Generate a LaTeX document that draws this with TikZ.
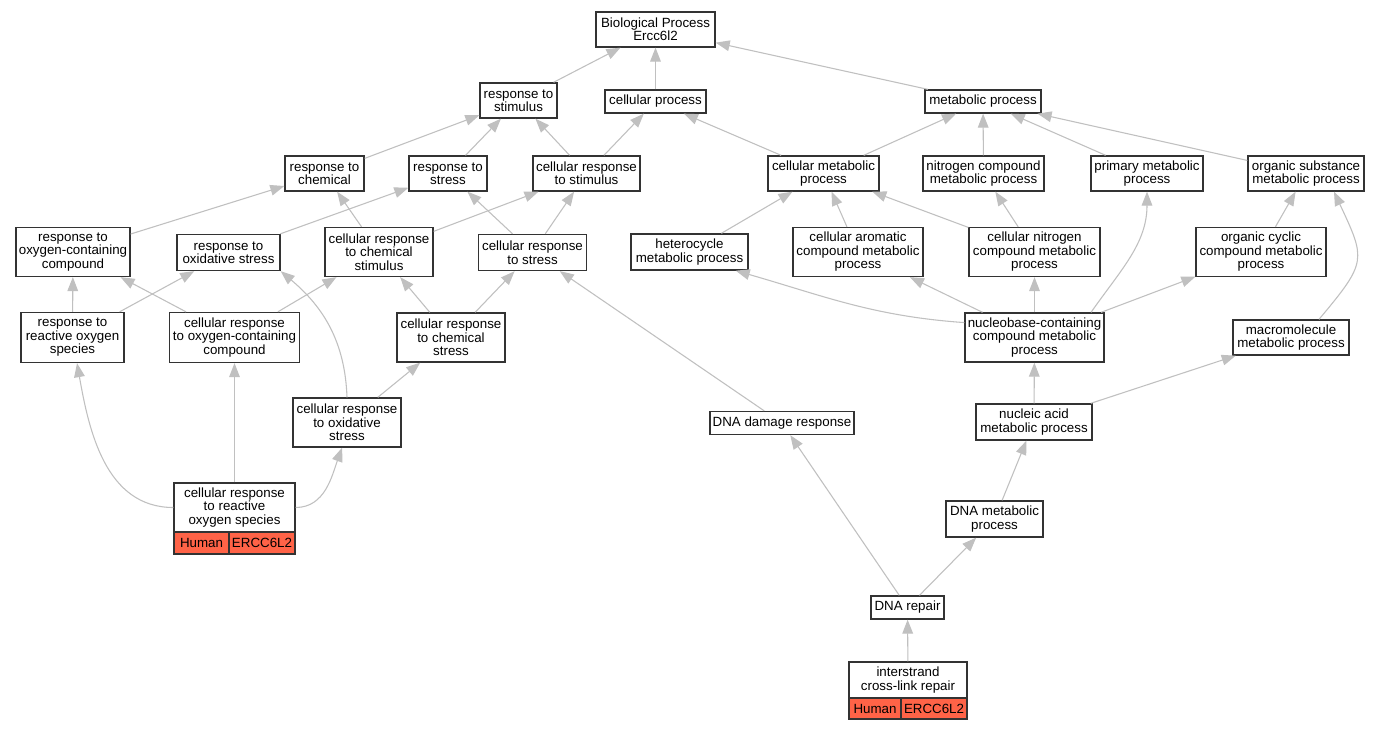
\documentclass[tikz,border=0pt]{standalone}
\usepackage{fontspec}
\setmainfont{Liberation Sans}
\usetikzlibrary{arrows.meta}
\definecolor{edgegray}{HTML}{C0C0C0}
\definecolor{tomatofill}{HTML}{FF6347}
\definecolor{boxline}{HTML}{333333}
\newcommand{\gofont}{\fontsize{10}{10.1}\selectfont}
\tikzset{
  gobox/.style 2 args={draw=boxline, line width=1pt, fill=white, rectangle,
    inner sep=0pt, align=center, font=\gofont,
    minimum width=#1*0.75pt, minimum height=#2*0.75pt},
  gocell/.style 2 args={gobox={#1}{#2}, fill=tomatofill},
  goedge/.style={draw=edgegray, line width=0.8pt,
    -{Triangle[length=10.5pt,width=8pt,fill=edgegray]}}
}
\begin{document}
\begin{tikzpicture}[x=0.75pt,y=0.75pt]
\useasboundingbox (0,0) rectangle (1380,-731);
\fill[white] (0,0) rectangle (1380,-731);
% nodes
\node[gobox={119}{35}] (bp) at (655.5,-29.5) {Biological Process\\Ercc6l2};
\node[gobox={77}{35}] (rstim) at (518.5,-100.5) {response to\\stimulus};
\node[gobox={101}{23}] (cproc) at (655.5,-101.5) {cellular process};
\node[gobox={116}{23}] (mproc) at (983,-101.5) {metabolic process};
\node[gobox={79}{35}] (rchem) at (324.5,-173.5) {response to\\chemical};
\node[gobox={78}{35}] (rstress) at (448,-173.5) {response to\\stress};
\node[gobox={107}{35}] (crstim) at (586.5,-173.5) {cellular response\\to stimulus};
\node[gobox={111}{35}] (cmet) at (823.5,-173.5) {cellular metabolic\\process};
\node[gobox={121}{35}] (ncmet) at (983.5,-173.5) {nitrogen compound\\metabolic process};
\node[gobox={112}{35}] (pmet) at (1147,-173.5) {primary metabolic\\process};
\node[gobox={116}{35}] (osmet) at (1306,-173.5) {organic substance\\metabolic process};
\node[gobox={114}{49}] (roxc) at (73,-252) {response to\\oxygen-containing\\compound};
\node[gobox={103}{36}] (rox) at (228.5,-252.5) {response to\\oxidative stress};
\node[gobox={108}{49}] (crchem) at (379,-252) {cellular response\\to chemical\\stimulus};
\node[gobox={108}{36}] (crstress) at (532.5,-252.5) {cellular response\\to stress};
\node[gobox={117}{36}] (hmet) at (689.5,-252) {heterocycle\\metabolic process};
\node[gobox={130}{49}] (camet) at (858,-252) {cellular aromatic\\compound metabolic\\process};
\node[gobox={131}{49}] (cnmet) at (1034.5,-252) {cellular nitrogen\\compound metabolic\\process};
\node[gobox={130}{49}] (ocmet) at (1261,-252) {organic cyclic\\compound metabolic\\process};
\node[gobox={103}{50}] (rros) at (72.5,-337.5) {response to\\reactive oxygen\\species};
\node[gobox={130}{50}] (croxc) at (234.5,-337.5) {cellular response\\to oxygen-containing\\compound};
\node[gobox={108}{49}] (crcs) at (451,-337.5) {cellular response\\to chemical\\stress};
\node[gobox={139}{49}] (nbmet) at (1034.5,-337.5) {nucleobase-containing\\compound metabolic\\process};
\node[gobox={116}{35}] (mmet) at (1291,-337.5) {macromolecule\\metabolic process};
\node[gobox={108}{49}] (crox) at (347,-422.5) {cellular response\\to oxidative\\stress};
\node[gobox={144}{23}] (dnadr) at (782,-423) {DNA damage response};
\node[gobox={116}{36}] (nam) at (1034,-422) {nucleic acid\\metabolic process};
\node[gobox={121}{49}] (crros) at (234.5,-507.5) {cellular response\\to reactive\\oxygen species};
\node[gocell={55}{22}] (crrosh) at (201.5,-543) {Human};
\node[gocell={66}{22}] (crrosg) at (262,-543) {ERCC6L2};
\node[gobox={97}{36}] (dnamet) at (994.5,-519) {DNA metabolic\\process};
\node[gobox={73}{23}] (dnarep) at (907.5,-607.5) {DNA repair};
\node[gobox={118}{36}] (icl) at (908,-680) {interstrand\\cross-link repair};
\node[gocell={52}{21}] (iclh) at (875,-708.5) {Human};
\node[gocell={66}{21}] (iclg) at (934,-708.5) {ERCC6L2};
% edges
\draw[goedge] (rstim) -- (bp);
\draw[goedge] (cproc) -- (bp);
\draw[goedge] (mproc) -- (bp);
\draw[goedge] (rchem) -- (rstim);
\draw[goedge] (rstress) -- (rstim);
\draw[goedge] (crstim) -- (rstim);
\draw[goedge] (crstim) -- (cproc);
\draw[goedge] (cmet) -- (cproc);
\draw[goedge] (cmet) -- (mproc);
\draw[goedge] (ncmet) -- (mproc);
\draw[goedge] (pmet) -- (mproc);
\draw[goedge] (osmet) -- (mproc);
\draw[goedge] (roxc) -- (rchem);
\draw[goedge] (crchem) -- (rchem);
\draw[goedge] (crchem) -- (crstim);
\draw[goedge] (rox) -- (rstress);
\draw[goedge] (crstress) -- (rstress);
\draw[goedge] (crstress) -- (crstim);
\draw[goedge] (hmet) -- (cmet);
\draw[goedge] (camet) -- (cmet);
\draw[goedge] (cnmet) -- (cmet);
\draw[goedge] (cnmet) -- (ncmet);
\draw[goedge] (ocmet) -- (osmet);
\draw[goedge] (rros) -- (roxc);
\draw[goedge] (rros) -- (rox);
\draw[goedge] (croxc) -- (roxc);
\draw[goedge] (croxc) -- (crchem);
\draw[goedge] (crcs) -- (crchem);
\draw[goedge] (crcs) -- (crstress);
\draw[goedge] (nbmet.168) to[out=176,in=-16] (hmet.-22);
\draw[goedge] (nbmet) -- (camet);
\draw[goedge] (nbmet) -- (cnmet);
\draw[goedge] (nbmet.24) to[out=55,in=-90] (pmet.south);
\draw[goedge] (nbmet) -- (ocmet);
\draw[goedge] (mmet.33) to[out=50,in=-65,looseness=1.5] (osmet.-33);
\draw[goedge] (crox.north) to[out=92,in=-40] (rox.south east);
\draw[goedge] (crox) -- (crcs);
\draw[goedge] (dnadr) -- (crstress);
\draw[goedge] (nam) -- (nbmet);
\draw[goedge] (nam) -- (mmet);
\draw[goedge] (crros.west) to[out=180,in=-80] (rros.-80);
\draw[goedge] (crros) -- (croxc);
\draw[goedge] (crros.east) to[out=0,in=-110] (crox.-101);
\draw[goedge] (dnamet) -- (nam);
\draw[goedge] (dnarep) -- (dnadr);
\draw[goedge] (dnarep) -- (dnamet);
\draw[goedge] (icl) -- (dnarep);
\end{tikzpicture}
\end{document}
